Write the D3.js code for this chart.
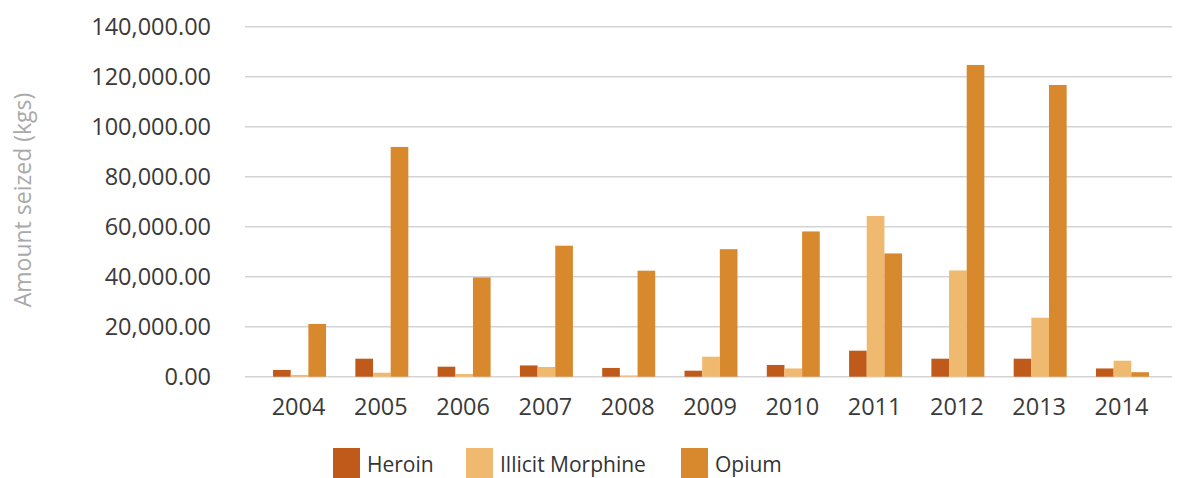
<!DOCTYPE html>
<head>
  <meta charset="utf-8">
  <title>Amount seized</title>
  <script src="https://d3js.org/d3.v7.min.js"></script>
  <style>
    body { margin: 0; background: #fff; }
    svg { font-family: "Open Sans", sans-serif; }
    .tick-y { font-size: 23.5px; fill: #3a3a3a; }
    .tick-x { font-size: 23.5px; fill: #3a3a3a; }
    .axisTitle { font-size: 23px; fill: #a9a9a9; }
    .grid-line { stroke: #d4d4d6; stroke-width: 1.6px; }
    .leyenda { font-size: 21px; fill: #333; }
  </style>
</head>
<body>
<script>
  var years = ["2004","2005","2006","2007","2008","2009","2010","2011","2012","2013","2014"];
  var heroin =    [2700, 7200, 4000, 4500, 3500, 2400, 4700, 10400, 7200, 7200, 3300];
  var morphine =  [700, 1600, 1100, 3900, 500, 8000, 3300, 64300, 42500, 23600, 6400];
  var opium =     [21100, 91900, 39700, 52400, 42400, 51000, 58100, 49300, 124700, 116700, 1800];
  var yTicks = [0, 20000, 40000, 60000, 80000, 100000, 120000, 140000];

  var series = [
    {label: "Heroin", values: heroin, color: "#c05a1a"},
    {label: "Illicit Morphine", values: morphine, color: "#f0b970"},
    {label: "Opium", values: opium, color: "#d8892d"}
  ];

  var width = 1182, height = 478;

  var svg = d3.select("body").append("svg")
      .attr("width", width)
      .attr("height", height);

  var x0 = d3.scaleBand()
      .domain(years)
      .range([258.4, 1163.6])
      .paddingInner(0.356)
      .paddingOuter(0.178);

  var x1 = d3.scaleBand()
      .domain(series.map(function(d) { return d.label; }))
      .range([0, x0.bandwidth()]);

  var y = d3.scaleLinear()
      .domain([0, 140000])
      .range([376.7, 26.7]);

  // grid
  svg.append("g").selectAll("line")
      .data(yTicks)
    .enter().append("line")
      .attr("class", "grid-line")
      .attr("x1", 245)
      .attr("x2", 1172)
      .attr("y1", function(d) { return y(d); })
      .attr("y2", function(d) { return y(d); });

  // y tick labels
  var fmt = d3.format(",.2f");
  svg.append("g").selectAll("text")
      .data(yTicks)
    .enter().append("text")
      .attr("class", "tick-y")
      .attr("x", 211)
      .attr("y", function(d) { return y(d); })
      .attr("dy", "0.36em")
      .attr("text-anchor", "end")
      .text(function(d) { return fmt(d); });

  svg.append("text")
      .attr("class", "axisTitle")
      .attr("transform", "translate(31,200) rotate(-90)")
      .attr("text-anchor", "middle")
      .text("Amount seized (kgs)");

  // bars
  var groups = svg.append("g").selectAll("g")
      .data(years)
    .enter().append("g")
      .attr("transform", function(d) { return "translate(" + x0(d) + ",0)"; });

  groups.selectAll("rect")
      .data(function(d, i) {
        return series.map(function(s) { return {key: s.label, value: s.values[i], color: s.color}; });
      })
    .enter().append("rect")
      .attr("x", function(d) { return x1(d.key); })
      .attr("width", x1.bandwidth())
      .attr("y", function(d) { return y(d.value); })
      .attr("height", function(d) { return y(0) - y(d.value); })
      .attr("fill", function(d) { return d.color; });

  // x labels
  svg.append("g").selectAll("text")
      .data(years)
    .enter().append("text")
      .attr("class", "tick-x")
      .attr("x", function(d) { return x0(d) + x0.bandwidth() / 2 - 1; })
      .attr("y", 415)
      .attr("text-anchor", "middle")
      .text(function(d) { return d; });

  // legend
  var legendX = [333, 466, 681];
  var legend = svg.append("g").attr("class", "leyenda");

  legend.selectAll("rect")
      .data(series)
    .enter().append("rect")
      .attr("x", function(d, i) { return legendX[i]; })
      .attr("y", 448)
      .attr("width", 27)
      .attr("height", 30)
      .attr("fill", function(d) { return d.color; });

  legend.selectAll("text")
      .data(series)
    .enter().append("text")
      .attr("x", function(d, i) { return legendX[i] + 34; })
      .attr("y", 472)
      .text(function(d) { return d.label; });
</script>
</body>
